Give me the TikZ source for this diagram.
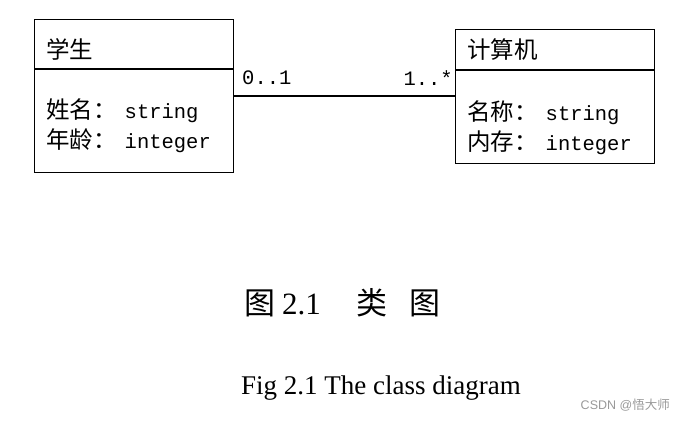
\documentclass[tikz,border=0pt]{standalone}
\usepackage{fontspec}
\setmainfont{Liberation Serif}
\setmonofont{Liberation Mono}
\newfontfamily\cjk{Noto Sans CJK SC}
\newfontfamily\wmfont{Liberation Sans}
\newcommand{\mtxt}[1]{\hspace{8pt}{\ttfamily\fontsize{20.5}{20}\selectfont #1}}
\begin{document}
\begin{tikzpicture}[x=1pt,y=-1pt,
  classbox/.style={draw, line width=1.3pt, minimum width=199pt, anchor=north west, inner sep=0pt},
  divider/.style={line width=2.4pt},
  assoc/.style={line width=2.4pt},
  cjktxt/.style={anchor=west, inner sep=0pt, font=\cjk\fontsize{23.5}{23.5}\selectfont},
  mult/.style={inner sep=0pt, font=\ttfamily\fontsize{20.5}{20}\selectfont}]
\useasboundingbox (0,0) rectangle (685,421);
% classes
\node[classbox, minimum height=153pt] (stu) at (34,19) {};
\node[classbox, minimum height=134pt] (comp) at (455,29) {};
\draw[divider] (34,69) -- (233,69);
\draw[divider] (455,70) -- (654,70);
% texts
\node[cjktxt] (stuname) at (46,49) {学生};
\node[cjktxt] (stua1) at (46,111) {姓名：\mtxt{string}};
\node[cjktxt] (stua2) at (46,141) {年龄：\mtxt{integer}};
\node[cjktxt] (compname) at (467,50) {计算机};
\node[cjktxt] (compa1) at (467,113) {名称：\mtxt{string}};
\node[cjktxt] (compa2) at (467,143) {内存：\mtxt{integer}};
% association
\coordinate (asc) at (0,96);
\draw[assoc] (asc -| stu.east) -- (asc -| comp.west);
\node[mult, anchor=west] (m1) at (242,78) {0..1};
\node[mult, anchor=east] (m2) at (453,78) {1..*};
% captions
\node[inner sep=0pt, anchor=west, font=\fontsize{31}{31}\selectfont] (cap1) at (244,303) {{\cjk 图}\hspace{7pt}2.1\hspace{36pt}{\cjk 类}\hspace{22pt}{\cjk 图}};
\node[inner sep=0pt, anchor=base, font=\fontsize{27}{27}\selectfont] (cap2) at (381,394) {Fig 2.1 The class diagram};
\node[inner sep=0pt, anchor=east, text=black!40, font=\wmfont\fontsize{12.5}{12.5}\selectfont] (wm) at (670,405) {CSDN @{\cjk 悟大师}};
\end{tikzpicture}
\end{document}
